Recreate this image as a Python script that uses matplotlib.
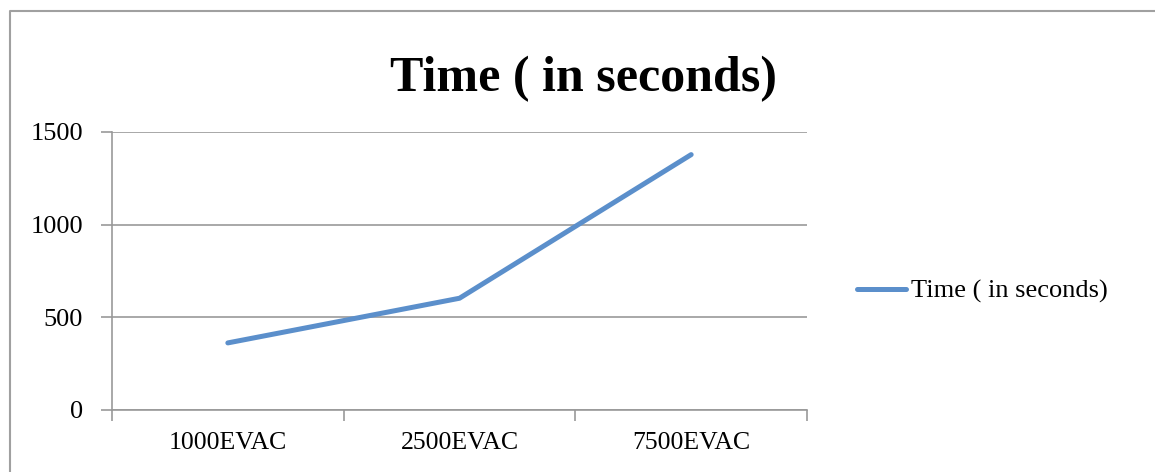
import matplotlib.pyplot as plt
from matplotlib.lines import Line2D

categories = ['1000EVAC', '2500EVAC', '7500EVAC']
times = [362, 603, 1378]
yticks = [0, 500, 1000, 1500]
series_name = 'Time ( in seconds)'

plt.rcParams['font.family'] = ['Liberation Serif', 'DejaVu Serif']

grey = '#999999'
blue = '#5B8FCB'

fig = plt.figure(figsize=(11.55, 4.72), dpi=100)
ax = fig.add_axes([112/1155, 1-410/472, (807-112)/1155, (410-132)/472])

ax.plot(range(len(categories)), times, color=blue, lw=3.6,
        solid_capstyle='round', solid_joinstyle='round', label=series_name)

ax.set_xlim(-0.5, len(categories) - 0.5)
ax.set_ylim(0, 1500)
ax.set_yticks(yticks)
ax.set_xticks(range(len(categories)))
ax.set_xticklabels(categories)
ax.set_xticks([i - 0.5 for i in range(len(categories) + 1)], minor=True)
ax.tick_params(axis='x', which='major', length=0, pad=16, labelsize=18.5)
ax.tick_params(axis='x', which='minor', length=8, color=grey, width=1.2)
ax.tick_params(axis='y', length=8, color=grey, width=1.2, pad=13, labelsize=19)

ax.grid(axis='y', color=grey, lw=1.2)
ax.set_axisbelow(True)
for s in ['top', 'right']:
    ax.spines[s].set_visible(False)
for s in ['left', 'bottom']:
    ax.spines[s].set_color(grey)
    ax.spines[s].set_linewidth(1.2)

fig.text(584/1155, 1-79/472, series_name, ha='center', va='center',
         fontsize=36, fontweight='bold')

# legend entry
fig.add_artist(Line2D([857/1155, 906/1155], [1-289/472, 1-289/472],
                      color=blue, lw=3.6, solid_capstyle='round',
                      transform=fig.transFigure))
fig.text(911/1155, 1-291/472, series_name, ha='left', va='center', fontsize=19)

# chart border (cropped: only top and left visible)
fig.add_artist(Line2D([10/1155, 10/1155, 1.0], [0.0, 1-11/472, 1-11/472],
                      color='#a0a0a0', lw=1.5, transform=fig.transFigure))

fig.savefig('out.png', dpi=100)
